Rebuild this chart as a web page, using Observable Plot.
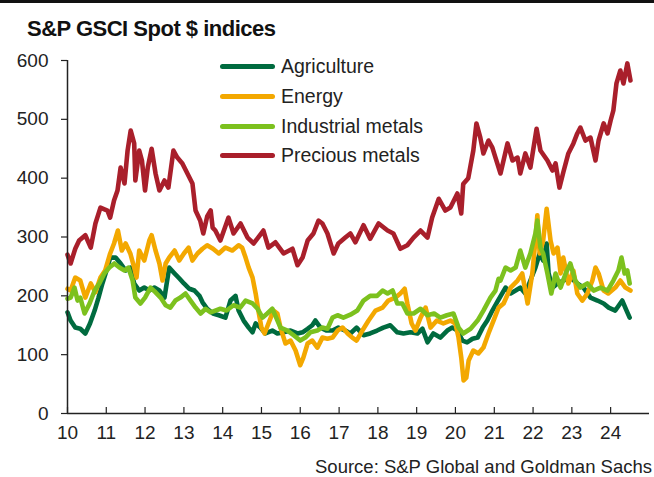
<!DOCTYPE html>
<html><head><meta charset="utf-8">
<script src="https://cdn.jsdelivr.net/npm/d3@7"></script>
<script src="https://cdn.jsdelivr.net/npm/@observablehq/plot@0.6"></script>
<style>
body{margin:0;background:#fff;font-family:"Liberation Sans",Arial,sans-serif;color:#222;}
#wrap{position:relative;width:654px;height:477px;overflow:hidden;background:#fff}
#topbar{position:absolute;left:0;top:0;width:654px;height:3px;background:#111;}
#title{position:absolute;left:27px;top:18px;font-weight:bold;font-size:22px;line-height:22px;letter-spacing:-0.5px;white-space:nowrap;color:#111}
#chart{position:absolute;left:0;top:48px}
#legend{position:absolute;left:220px;top:52px}
.row{display:flex;align-items:center;height:29.7px;font-size:19.5px;white-space:nowrap;color:#222}
.sw{display:inline-block;width:55px;height:5px;border-radius:3px;margin-right:6px}
#caption{position:absolute;right:2px;top:458px;font-size:18.5px;line-height:18.5px;white-space:nowrap;color:#222}
</style></head>
<body>
<div id="wrap">
  <div id="topbar"></div>
  <div id="title">S&amp;P GSCI Spot $ indices</div>
  <div id="chart"></div>
  <div id="legend"></div>
  <div id="caption">Source: S&amp;P Global and Goldman Sachs</div>
</div>
<script>
const seriesNames = ["Agriculture", "Energy", "Industrial metals", "Precious metals"];
const seriesColors = ["#006b3f", "#f3a800", "#7cc11e", "#a91f2b"];

const yTicks = [0, 100, 200, 300, 400, 500, 600];
const xTickYears = [2010,2011,2012,2013,2014,2015,2016,2017,2018,2019,2020,2021,2022,2023,2024];
const xTickLabels = ["10","11","12","13","14","15","16","17","18","19","20","21","22","23","24"];

// [decimal year, index value]
const agriculture = [[2010.0,172],[2010.08,158],[2010.2,146],[2010.33,144],[2010.46,136],[2010.58,153],[2010.7,175],[2010.8,197],[2010.9,221],[2011.03,248],[2011.1,265],[2011.24,265],[2011.37,255],[2011.5,243],[2011.62,248],[2011.72,221],[2011.85,209],[2011.98,214],[2012.11,209],[2012.24,214],[2012.37,209],[2012.5,197],[2012.58,231],[2012.62,248],[2012.76,238],[2012.89,229],[2013.0,221],[2013.14,212],[2013.27,209],[2013.4,200],[2013.48,189],[2013.6,178],[2013.75,170],[2013.9,167],[2014.07,163],[2014.2,192],[2014.33,200],[2014.41,175],[2014.54,158],[2014.67,146],[2014.77,138],[2014.85,153],[2014.97,146],[2015.1,136],[2015.28,141],[2015.41,136],[2015.57,138],[2015.75,141],[2015.93,136],[2016.06,138],[2016.19,144],[2016.31,150],[2016.39,158],[2016.52,146],[2016.67,141],[2016.83,141],[2016.98,146],[2017.16,141],[2017.29,136],[2017.45,146],[2017.63,133],[2017.8,136],[2017.98,141],[2018.14,146],[2018.32,150],[2018.5,138],[2018.66,136],[2018.84,138],[2019.02,136],[2019.15,144],[2019.28,121],[2019.43,136],[2019.61,129],[2019.79,141],[2019.92,146],[2020.05,141],[2020.18,124],[2020.3,121],[2020.44,127],[2020.57,129],[2020.7,146],[2020.82,158],[2020.95,175],[2021.08,190],[2021.29,214],[2021.42,204],[2021.55,209],[2021.67,214],[2021.8,204],[2021.93,226],[2022.06,248],[2022.17,272],[2022.26,260],[2022.35,289],[2022.4,238],[2022.5,214],[2022.63,221],[2022.78,226],[2022.96,231],[2023.14,221],[2023.3,214],[2023.48,197],[2023.66,192],[2023.82,187],[2023.95,180],[2024.12,175],[2024.3,192],[2024.41,175],[2024.49,163]];

const energy = [[2010.0,212],[2010.08,209],[2010.2,231],[2010.33,226],[2010.46,197],[2010.6,221],[2010.72,206],[2010.85,231],[2010.97,243],[2011.1,272],[2011.2,289],[2011.3,311],[2011.4,277],[2011.5,289],[2011.62,272],[2011.72,248],[2011.78,231],[2011.85,277],[2011.98,260],[2012.11,294],[2012.17,303],[2012.27,277],[2012.37,255],[2012.45,226],[2012.53,255],[2012.62,265],[2012.76,277],[2012.88,260],[2013.0,272],[2013.12,282],[2013.22,260],[2013.35,272],[2013.48,280],[2013.6,286],[2013.75,280],[2013.9,272],[2014.07,282],[2014.25,277],[2014.41,286],[2014.5,282],[2014.59,265],[2014.67,248],[2014.77,231],[2014.85,204],[2014.92,175],[2015.0,146],[2015.08,136],[2015.18,153],[2015.31,175],[2015.41,170],[2015.49,146],[2015.62,119],[2015.75,124],[2015.88,107],[2016.0,82],[2016.08,95],[2016.19,119],[2016.31,124],[2016.44,112],[2016.57,129],[2016.7,127],[2016.83,129],[2016.96,141],[2017.09,146],[2017.22,136],[2017.34,129],[2017.45,124],[2017.6,141],[2017.76,158],[2017.94,175],[2018.12,180],[2018.27,192],[2018.45,197],[2018.58,204],[2018.69,212],[2018.76,187],[2018.87,153],[2018.97,141],[2019.1,163],[2019.23,180],[2019.36,146],[2019.52,158],[2019.69,153],[2019.87,158],[2020.0,153],[2020.08,129],[2020.15,95],[2020.21,56],[2020.28,61],[2020.34,90],[2020.46,107],[2020.59,102],[2020.72,112],[2020.85,136],[2020.98,158],[2021.11,180],[2021.24,187],[2021.42,214],[2021.6,226],[2021.72,238],[2021.86,187],[2021.98,238],[2022.06,294],[2022.11,337],[2022.17,272],[2022.26,294],[2022.35,348],[2022.45,294],[2022.53,272],[2022.63,282],[2022.71,238],[2022.78,265],[2022.91,221],[2023.04,243],[2023.14,204],[2023.27,192],[2023.4,204],[2023.53,226],[2023.61,248],[2023.69,238],[2023.82,209],[2023.94,204],[2024.12,214],[2024.25,226],[2024.38,214],[2024.51,209]];

const industrialMetals = [[2010.0,195],[2010.08,197],[2010.18,214],[2010.26,192],[2010.33,197],[2010.44,170],[2010.57,187],[2010.7,209],[2010.82,221],[2010.95,238],[2011.08,248],[2011.21,255],[2011.34,248],[2011.47,243],[2011.57,248],[2011.68,226],[2011.75,197],[2011.88,187],[2012.0,197],[2012.14,214],[2012.27,206],[2012.4,197],[2012.53,184],[2012.65,180],[2012.78,192],[2012.91,197],[2013.04,204],[2013.17,192],[2013.3,180],[2013.43,170],[2013.56,178],[2013.69,172],[2013.94,178],[2014.1,175],[2014.28,184],[2014.45,180],[2014.59,192],[2014.77,187],[2014.9,178],[2015.03,163],[2015.15,170],[2015.28,178],[2015.38,163],[2015.49,146],[2015.67,141],[2015.83,133],[2016.0,124],[2016.13,129],[2016.26,138],[2016.44,141],[2016.57,146],[2016.7,144],[2016.83,163],[2016.96,167],[2017.11,163],[2017.29,168],[2017.47,175],[2017.63,192],[2017.8,200],[2017.98,200],[2018.12,209],[2018.25,204],[2018.38,209],[2018.5,187],[2018.63,187],[2018.76,170],[2018.92,170],[2019.1,178],[2019.28,167],[2019.45,170],[2019.61,163],[2019.78,167],[2019.95,170],[2020.08,146],[2020.2,136],[2020.39,144],[2020.57,158],[2020.72,175],[2020.9,197],[2021.03,209],[2021.11,229],[2021.16,226],[2021.29,248],[2021.42,243],[2021.55,248],[2021.67,277],[2021.8,248],[2021.93,272],[2022.06,306],[2022.11,328],[2022.19,282],[2022.26,272],[2022.37,238],[2022.47,204],[2022.58,238],[2022.71,214],[2022.84,238],[2022.96,255],[2023.09,226],[2023.22,214],[2023.4,221],[2023.56,209],[2023.74,214],[2023.92,209],[2024.07,226],[2024.2,243],[2024.28,265],[2024.36,238],[2024.43,243],[2024.49,221]];

const preciousMetals = [[2010.0,270],[2010.08,255],[2010.2,280],[2010.3,294],[2010.46,303],[2010.6,282],[2010.72,323],[2010.85,350],[2011.03,345],[2011.1,333],[2011.2,362],[2011.29,379],[2011.37,418],[2011.47,391],[2011.55,447],[2011.63,481],[2011.72,459],[2011.75,396],[2011.85,447],[2011.92,430],[2012.0,379],[2012.07,418],[2012.17,450],[2012.27,408],[2012.37,379],[2012.5,396],[2012.6,384],[2012.73,447],[2012.83,435],[2012.96,425],[2013.09,408],[2013.22,391],[2013.3,345],[2013.42,328],[2013.5,306],[2013.6,335],[2013.69,345],[2013.74,316],[2013.81,311],[2013.94,294],[2014.15,333],[2014.28,306],[2014.46,323],[2014.64,299],[2014.8,289],[2015.05,311],[2015.18,282],[2015.36,291],[2015.57,272],[2015.8,280],[2015.93,252],[2016.06,265],[2016.19,294],[2016.34,306],[2016.47,328],[2016.57,323],[2016.7,306],[2016.86,272],[2016.98,289],[2017.16,299],[2017.29,306],[2017.42,291],[2017.63,320],[2017.8,297],[2018.02,323],[2018.25,311],[2018.4,306],[2018.58,280],[2018.76,286],[2018.92,299],[2019.1,311],[2019.28,299],[2019.4,333],[2019.57,365],[2019.74,345],[2019.87,350],[2020.05,374],[2020.15,340],[2020.2,390],[2020.33,400],[2020.46,447],[2020.54,493],[2020.64,469],[2020.72,442],[2020.85,464],[2020.95,452],[2021.03,435],[2021.16,408],[2021.34,459],[2021.47,430],[2021.6,435],[2021.67,408],[2021.8,442],[2021.93,418],[2022.09,484],[2022.19,447],[2022.37,430],[2022.5,413],[2022.58,425],[2022.68,384],[2022.78,410],[2022.91,442],[2023.04,459],[2023.14,476],[2023.22,486],[2023.35,464],[2023.48,469],[2023.61,430],[2023.69,464],[2023.82,493],[2023.92,476],[2024.0,498],[2024.07,515],[2024.15,561],[2024.25,583],[2024.33,561],[2024.43,595],[2024.51,566]];

const seriesData = [agriculture, energy, industrialMetals, preciousMetals];

function toDate(t) {
  const y = Math.floor(t), f = t - y;
  const s = Date.UTC(y, 0, 1), e = Date.UTC(y + 1, 0, 1);
  return new Date(s + f * (e - s));
}

const rows = seriesNames.flatMap((name, i) =>
  seriesData[i].map(([t, v]) => ({name, date: toDate(t), value: v})));

const xTicks = xTickYears.map(y => new Date(Date.UTC(y, 0, 1)));
const xStart = new Date(Date.UTC(2010, 0, 1));
const xEnd = new Date(Date.UTC(2025, 0, 1));

const H = 405, mT = 12, mB = 40;
const chart = Plot.plot({
  width: 654, height: H,
  marginLeft: 67, marginRight: 5, marginTop: mT, marginBottom: mB,
  style: {fontFamily: '"Liberation Sans", Arial, sans-serif', fontSize: "19px", color: "#222", background: "transparent"},
  x: {type: "utc", domain: [xStart, xEnd]},
  y: {domain: [0, 600]},
  color: {domain: seriesNames, range: seriesColors},
  marks: [
    Plot.lineY(rows, {x: "date", y: "value", z: "name", stroke: "name", strokeWidth: 4.6, strokeLinejoin: "round", strokeLinecap: "round"}),
    Plot.ruleY([0], {stroke: "#222", strokeWidth: 1.5}),
    Plot.ruleX([xStart], {stroke: "#222", strokeWidth: 1.5}),
    Plot.ruleX(xTicks, {stroke: "#222", strokeWidth: 1.2, insetTop: H - mT - mB - 6}),
    Plot.axisY({ticks: yTicks, tickSize: 6, tickPadding: 13, tickFormat: d => String(d), label: null, fontSize: 19, stroke: "#222", strokeWidth: 1.2}),
    Plot.axisX({ticks: xTicks, tickSize: 0, tickPadding: 12, tickFormat: d => xTickLabels[xTickYears.indexOf(d.getUTCFullYear())], label: null, fontSize: 19})
  ]
});
document.getElementById("chart").appendChild(chart);

const legend = document.getElementById("legend");
seriesNames.forEach((n, i) => {
  const r = document.createElement("div");
  r.className = "row";
  const sw = document.createElement("span");
  sw.className = "sw";
  sw.style.background = seriesColors[i];
  r.appendChild(sw);
  r.appendChild(document.createTextNode(n));
  legend.appendChild(r);
});
</script>
</body></html>
